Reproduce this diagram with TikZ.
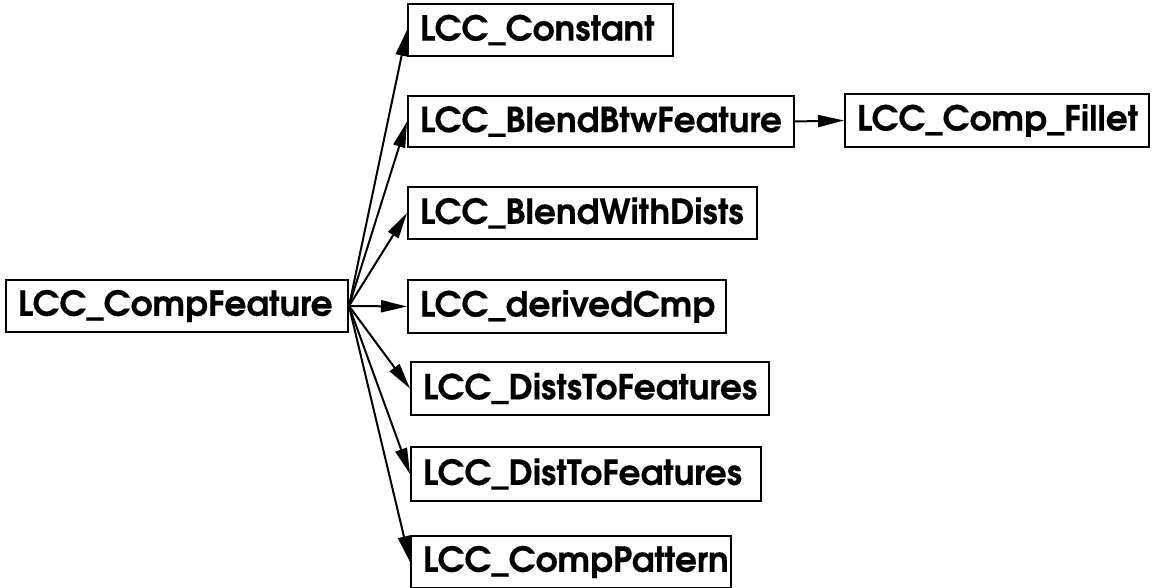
\documentclass[tikz,border=0pt]{standalone}
\usepackage{fontspec}
\setmainfont{TeX Gyre Adventor}[BoldFeatures={FakeBold=0.3}]
\usetikzlibrary{arrows.meta}
\tikzset{
  cls/.style={draw, line width=2pt, rectangle, anchor=north west,
    inner xsep=12pt, inner ysep=0pt, align=left,
    font=\fontsize{34.5}{37}\selectfont\bfseries},
  inh/.style={line width=2pt, -{Triangle[length=26pt,width=12pt]}}
}
\newcommand{\clsbox}[5]{%
  \node[cls, minimum height=#4pt, text width=#3pt-24pt] (#1) at (#2) {#5};}
\begin{document}
\begin{tikzpicture}[x=1pt,y=-1pt]
\useasboundingbox (0,0) rectangle (1153,588);
\clsbox{comp}{5,279}{342}{52}{LCC\_CompFeature}
\clsbox{const}{407,3}{265}{52}{LCC\_Constant}
\clsbox{btw}{407,95}{386}{51}{LCC\_BlendBtwFeature}
\clsbox{fillet}{844,93}{304}{53}{LCC\_Comp\_Fillet}
\clsbox{with}{407,186}{349}{52}{LCC\_BlendWithDists}
\clsbox{derived}{407,279}{318}{53}{LCC\_derivedCmp}
\clsbox{dists}{410,361}{358}{53}{LCC\_DistsToFeatures}
\clsbox{dist}{410,446}{350}{54}{LCC\_DistToFeatures}
\clsbox{pattern}{410,535}{320}{52}{LCC\_CompPattern}
\foreach \t in {const,btw,with,derived,dists,dist,pattern}
  \draw[inh] (comp.east) -- (\t.west);
\draw[inh] (btw.east) -- (fillet.west);
\end{tikzpicture}
\end{document}
